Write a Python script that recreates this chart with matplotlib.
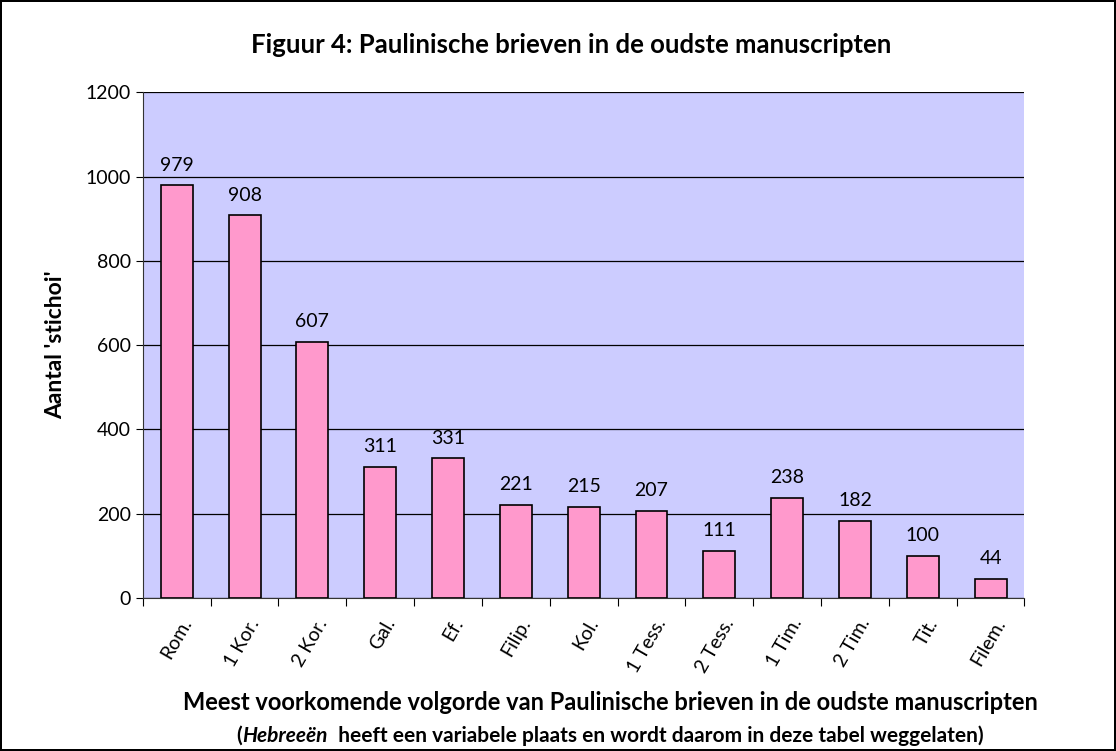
import numpy as np
import matplotlib.pyplot as plt

# letters of Paul, most common order in the oldest manuscripts
brieven = ['Rom.', '1 Kor.', '2 Kor.', 'Gal.', 'Ef.', 'Filip.', 'Kol.',
           '1 Tess.', '2 Tess.', '1 Tim.', '2 Tim.', 'Tit.', 'Filem.']
stichoi = [979, 908, 607, 311, 331, 221, 215, 207, 111, 238, 182, 100, 44]

plt.rcParams['font.family'] = ['Lato', 'DejaVu Sans']

fig = plt.figure(figsize=(11.16, 7.51), dpi=100)
fig.patch.set_edgecolor('black')
fig.patch.set_linewidth(1.5)
ax = fig.add_axes([0.128, 0.204, 0.79, 0.673])

x = np.arange(len(brieven))
ax.bar(x, stichoi, width=0.47, color='#FF99CC', edgecolor='black', linewidth=1.2, zorder=3)
for xi, v in zip(x, stichoi):
    ax.text(xi, v + 28, str(v), ha='center', va='bottom', fontsize=14)

ax.set_facecolor('#CCCCFF')
ax.set_xlim(-0.5, len(brieven) - 0.5)
ax.set_ylim(0, 1200)
ax.set_yticks(range(0, 1201, 200))
ax.yaxis.grid(True, color='black', linewidth=0.9, zorder=1)
ax.tick_params(axis='y', labelsize=14, length=5, direction='out')
for s in ['top', 'right']:
    ax.spines[s].set_visible(False)
ax.spines['left'].set_color('#333333')
ax.spines['bottom'].set_color('#333333')

# Excel style: ticks between categories, labels centred on bars
ax.set_xticks(np.arange(-0.5, len(brieven)))
ax.set_xticklabels([])
ax.tick_params(axis='x', length=6, direction='out')
for xi, lab in zip(x, brieven):
    ax.text(xi + 0.05, -42, lab, rotation=60, ha='right', va='top',
            rotation_mode='anchor', fontsize=14)

ax.set_ylabel("Aantal 'stichoi'", fontsize=16.5, fontweight='bold', labelpad=14)

fig.text(0.512, 0.94, 'Figuur 4: Paulinische brieven in de oudste manuscripten',
         ha='center', va='center', fontsize=18.5, fontweight='bold')
fig.text(0.547, 0.064, 'Meest voorkomende volgorde van Paulinische brieven in de oudste manuscripten',
         ha='center', va='center', fontsize=17, fontweight='bold')

# second line: italic word inside bold text
parts = [('(', 'normal'), ('Hebreeën', 'italic'),
         ('  heeft een variabele plaats en wordt daarom in deze tabel weggelaten)', 'normal')]
fig.canvas.draw()
r = fig.canvas.get_renderer()
texts = []
for s, st in parts:
    t = fig.text(0, 0.02, s, ha='left', va='center', fontsize=15,
                 fontweight='bold', style=st)
    texts.append(t)
widths = [t.get_window_extent(r).width for t in texts]
xpos = 610 - sum(widths) / 2
for t, w in zip(texts, widths):
    t.set_x(xpos / fig.bbox.width)
    xpos += w

fig.savefig('out.png', dpi=100, edgecolor=fig.get_edgecolor())
